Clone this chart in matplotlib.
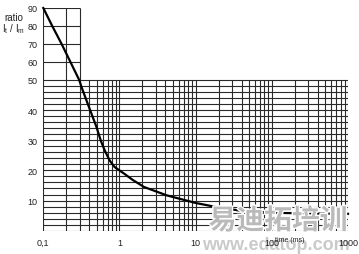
import numpy as np
import matplotlib
matplotlib.use("Agg")
import matplotlib.pyplot as plt
import matplotlib.patheffects as pe

plt.rcParams['font.family'] = ['Liberation Sans', 'DejaVu Sans']

# curve: time (ms) vs ratio It/Im
time_ms = [0.1, 0.131, 0.174, 0.227, 0.296, 0.318, 0.369, 0.429, 0.499, 0.568,
           0.641, 0.743, 0.865, 1.17, 1.5, 2.1, 4.2, 10, 20, 40, 100, 300, 1000]
ratio = [90, 80, 70, 60, 50, 47.6, 43.2, 38.8, 34.4, 29.9,
         26.6, 23.3, 21.1, 18.8, 16.8, 14.5, 11.7, 9.2, 7.7, 6.6, 6.0, 5.7, 5.6]

y_ticks = [10, 20, 30, 40, 50, 60, 70, 80, 90]
x_ticks = [0.1, 1, 10, 100, 1000]
x_labels = ['0,1', '1', '10', '100', '1000']

# y axis is stretched below 50 and squeezed above it
def fwd(y):
    y = np.asarray(y, dtype=float)
    return np.where(y <= 50, 3.0 * y, 150 + (y - 50) * 1.79)

def inv(v):
    v = np.asarray(v, dtype=float)
    return np.where(v <= 150, v / 3.0, 50 + (v - 150) / 1.79)

fig = plt.figure(figsize=(3.59, 2.55), dpi=100)
ax = fig.add_axes([43.3 / 359, 1 - 231.7 / 255, 304.7 / 359, 222.7 / 255])
ax.set_xscale('log')
ax.set_yscale('function', functions=(fwd, inv))
ax.set_xlim(0.1, 1000)
ax.set_ylim(0, 90)

gc = '#2a2a2a'
glw = 0.8
# vertical grid
xs = [m * 10.0 ** e for e in range(-1, 3) for m in range(1, 10)] + [1000]
for x in xs:
    top = 90 if x <= 0.3 + 1e-9 else 50
    ax.plot([x, x], [0, top], color=gc, lw=glw, solid_capstyle='butt', zorder=1)
# horizontal grid
for y in range(0, 51, 2):
    ax.plot([0.1, 1000], [y, y], color=gc, lw=glw, solid_capstyle='butt', zorder=1)
for y in [60, 70, 80, 90]:
    ax.plot([0.1, 0.3], [y, y], color=gc, lw=glw, solid_capstyle='butt', zorder=1)

ax.plot(time_ms, ratio, color='black', lw=1.6, zorder=1.2, clip_on=False)

for s in ax.spines.values():
    s.set_visible(False)
ax.set_yticks(y_ticks)
ax.set_yticklabels([str(v) for v in y_ticks])
ax.set_xticks(x_ticks)
ax.set_xticklabels(x_labels)
ax.minorticks_off()
ax.tick_params(axis='both', length=0, labelsize=6.5, colors='#222')
ax.tick_params(axis='y', pad=4)
ax.tick_params(axis='x', pad=5)
ax.xaxis.set_zorder(3)
ax.yaxis.set_zorder(3)

fig.text(13.5 / 359, 1 - 18 / 255, 'ratio', fontsize=7, color='#222',
         ha='center', va='center')
fig.text(14 / 359, 1 - 29 / 255, r'I$_\mathregular{t}$ / I$_\mathregular{m}$',
         fontsize=7, color='#222', ha='center', va='center')

# watermark, above the grid but under the tick labels
wm = [pe.withStroke(linewidth=2, foreground='white')]
ax.text(278 / 359, 1 - 222 / 255, '易迪拓培训', fontsize=20, color='#bababa',
        family=['Noto Sans CJK SC', 'DejaVu Sans'], ha='center', va='center',
        fontweight='bold', transform=fig.transFigure, clip_on=False,
        zorder=2, path_effects=wm)
ax.text(276 / 359, 1 - 246 / 255, 'www.edatop.com', fontsize=13, color='#cacaca',
        fontweight='bold', ha='center', va='center', transform=fig.transFigure,
        clip_on=False, zorder=2)
ax.text(290 / 359, 1 - 241 / 255, 'time (ms)', fontsize=5, color='#222',
        ha='center', va='center', transform=fig.transFigure, clip_on=False,
        zorder=4)

fig.savefig('out.png', dpi=100)
